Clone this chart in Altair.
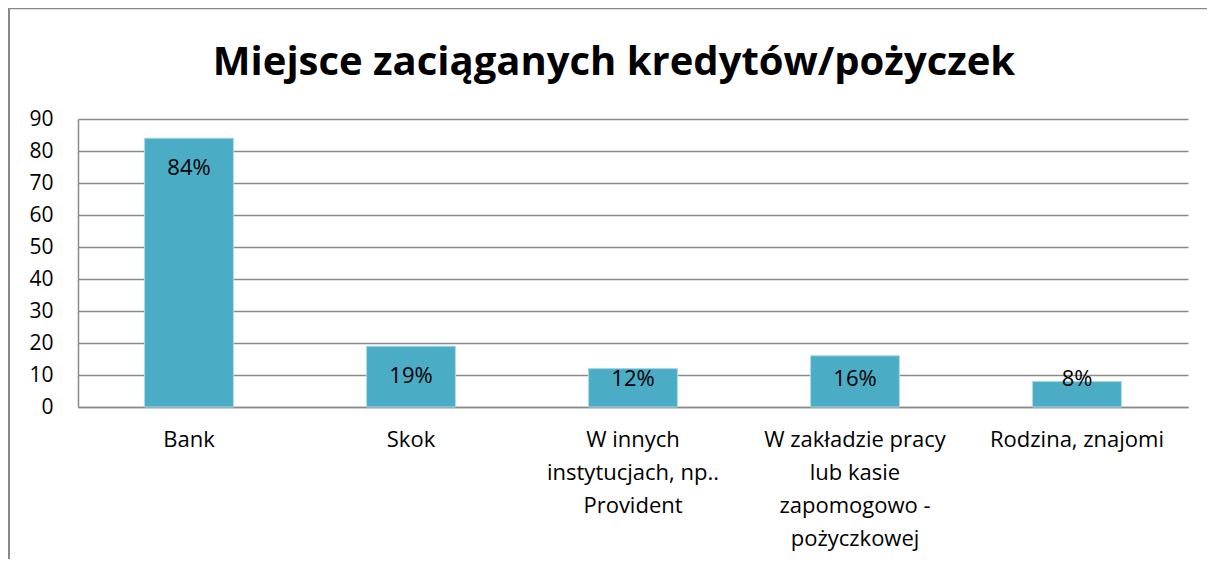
import altair as alt
import pandas as pd

categories = [
    "Bank",
    "Skok",
    "W innych\ninstytucjach, np..\nProvident",
    "W zakładzie pracy\nlub kasie\nzapomogowo -\npożyczkowej",
    "Rodzina, znajomi",
]
values = [84, 19, 12, 16, 8]
y_ticks = [0, 10, 20, 30, 40, 50, 60, 70, 80, 90]
title_text = "Miejsce zaciąganych kredytów/pożyczek"

W, H = 1110, 288
PAD = {"left": 70, "top": 111, "right": 19, "bottom": 152}

df = pd.DataFrame({"cat": categories, "v": values})

FONT = "Open Sans"
GRID = "#8a8a8a"

x_axis = alt.Axis(
    title=None,
    labelAngle=0,
    labelExpr="split(datum.label, '\\n')",
    labelFont=FONT,
    labelFontSize=22,
    labelColor="#000000",
    labelLineHeight=33,
    labelBaseline="top",
    labelPadding=22,
    ticks=False,
    domainColor=GRID,
    domainWidth=1.5,
    labelLimit=400,
    grid=False,
)
x_scale = alt.Scale(paddingInner=0.6, paddingOuter=0.3)

y_axis = alt.Axis(
    title=None,
    values=y_ticks,
    labelOverlap=False,
    labelFont=FONT,
    labelFontSize=21,
    labelColor="#000000",
    labelPadding=25,
    ticks=False,
    domainColor=GRID,
    domainWidth=1.5,
    grid=True,
    gridColor=GRID,
    gridWidth=1.5,
)
y_scale = alt.Scale(domain=[0, 90], nice=False)

bars = alt.Chart(df).mark_bar(color="#4bacc6", stroke="#a9d8e6", strokeWidth=1).encode(
    x=alt.X("cat:N", sort=categories, scale=x_scale, axis=x_axis),
    y=alt.Y("v:Q", scale=y_scale, axis=y_axis),
)

labels = (
    alt.Chart(df)
    .transform_calculate(pos="max(datum.v - 9.4, 8.6)", txt="datum.v + '%'")
    .mark_text(font=FONT, fontSize=22, color="#000000", baseline="middle")
    .encode(
        x=alt.X("cat:N", sort=categories, scale=x_scale, axis=x_axis),
        y=alt.Y("pos:Q", scale=y_scale, axis=y_axis),
        text="txt:N",
    )
)

one = pd.DataFrame({"a": [0]})
border_left = alt.Chart(one).mark_rule(color="#888888", strokeWidth=2).encode(
    x=alt.value(-69), y=alt.value(-111), y2=alt.value(H + PAD["bottom"])
)
border_top = alt.Chart(one).mark_rule(color="#888888", strokeWidth=1.5).encode(
    x=alt.value(-70), x2=alt.value(W + PAD["right"]), y=alt.value(-110.5)
)
title = alt.Chart(one).mark_text(
    text=title_text,
    font=FONT,
    fontSize=40,
    fontWeight="bold",
    color="#000000",
    align="center",
    baseline="alphabetic",
).encode(x=alt.value(536), y=alt.value(-44))

chart = (
    alt.layer(bars, labels, border_left, border_top, title)
    .properties(
        width=W,
        height=H,
        padding=PAD,
        autosize=alt.AutoSizeParams(type="none"),
    )
    .configure_view(stroke=None)
)

chart.save("out.html", embed_options={"renderer": "svg", "actions": False})
